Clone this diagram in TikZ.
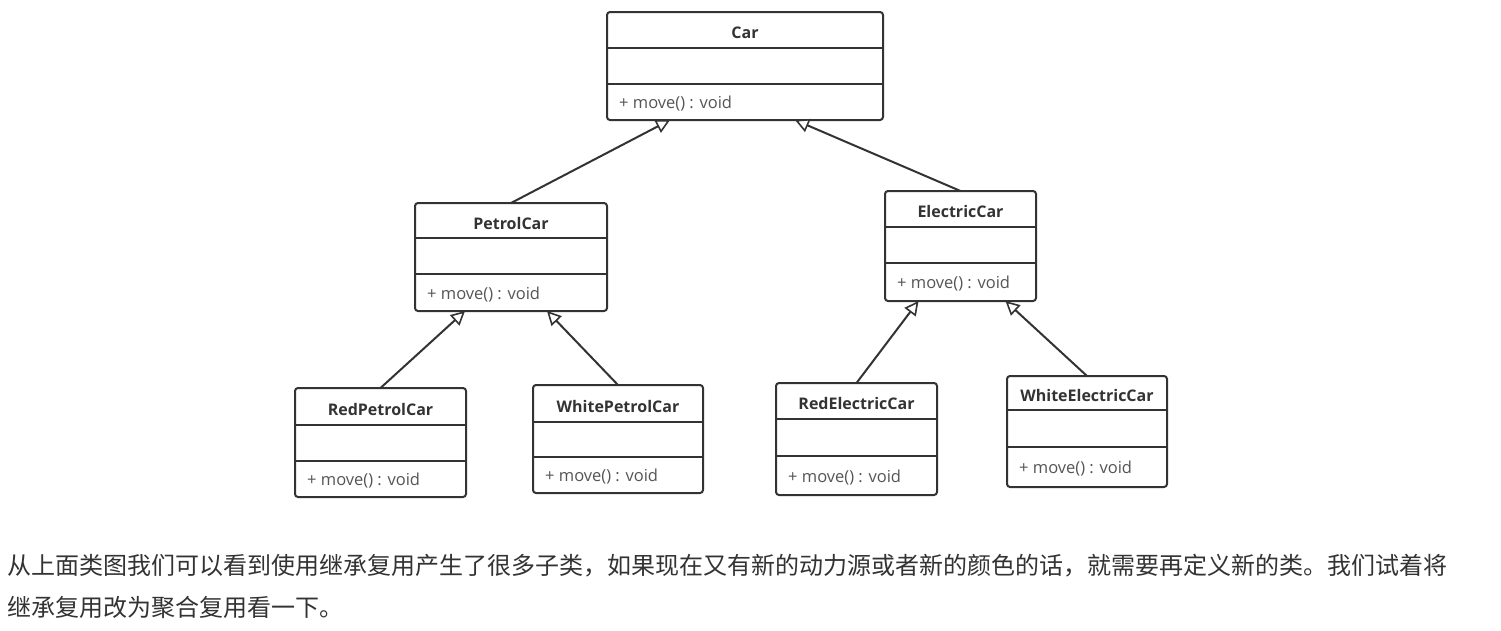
\documentclass[tikz,border=0pt]{standalone}
\usepackage{fontspec}
\setmainfont{Open Sans}
\newfontfamily\cjk{Noto Sans CJK SC}
\usetikzlibrary{arrows.meta}
\definecolor{linec}{HTML}{333333}
\definecolor{titlec}{HTML}{333333}
\definecolor{methc}{HTML}{555555}
\definecolor{bodyc}{HTML}{333333}
\tikzset{
  clsbox/.style={draw=linec, line width=2pt, rounded corners=3pt, fill=white, inner sep=0pt, outer sep=0pt},
  clsline/.style={draw=linec, line width=2pt},
  clstitle/.style={inner sep=0pt, text=titlec, font=\fontsize{16}{19}\selectfont\bfseries},
  clsmeth/.style={inner sep=0pt, anchor=west, text=methc, font=\fontsize{16.5}{19}\selectfont},
  inherit/.style={draw=linec, line width=2pt, -{Triangle[length=14pt, width=14pt, fill=white, line width=1.6pt]}},
  bodytext/.style={inner sep=0pt, anchor=west, text=bodyc, font=\cjk\fontsize{24}{28}\selectfont}
}
\newcommand\UMLcls[8]{%
  \node[clsbox, minimum width={(#4-#2)*1pt}, minimum height={(#5-#3)*1pt}] (#1) at ({(#2+#4)/2},{(#3+#5)/2}) {};
  \draw[clsline] (#1.west |- 0,#6) -- (#1.east |- 0,#6);
  \draw[clsline] (#1.west |- 0,#7) -- (#1.east |- 0,#7);
  \node[clstitle] (#1-t) at ({(#2+#4)/2},{(#3+#6)/2+2.5}) {#8};
  \node[clsmeth] (#1-m) at ({#2+12},{(#7+#5)/2+2}) {+ move() : void};
}
\begin{document}
\begin{tikzpicture}[x=1pt,y=-1pt]
\fill[white] (0,0) rectangle (1501,630);
\useasboundingbox (0,0) rectangle (1501,630);
\UMLcls{car}{607}{12}{883}{120}{48}{84}{Car}
\UMLcls{petrol}{415}{203}{607}{311}{238}{274}{PetrolCar}
\UMLcls{electric}{885}{191}{1036}{301}{227}{263}{ElectricCar}
\UMLcls{redpetrol}{295}{388}{466}{497}{425}{461}{RedPetrolCar}
\UMLcls{whitepetrol}{533}{385}{703}{493}{422}{457}{WhitePetrolCar}
\UMLcls{redelectric}{776}{383}{937}{495}{419}{456}{RedElectricCar}
\UMLcls{whiteelectric}{1007}{376}{1167}{487}{410}{447}{WhiteElectricCar}
\draw[inherit] (petrol.north) -- ([xshift=-75pt]car.south);
\draw[inherit] (electric.north) -- ([xshift=50pt]car.south);
\draw[inherit] (redpetrol.north) -- ([xshift=-46pt]petrol.south);
\draw[inherit] (whitepetrol.north) -- ([xshift=36pt]petrol.south);
\draw[inherit] (redelectric.north) -- ([xshift=-42pt]electric.south);
\draw[inherit] (whiteelectric.north) -- ([xshift=45pt]electric.south);
\node[bodytext] (line1) at (7,566) {从上面类图我们可以看到使用继承复用产生了很多子类，如果现在又有新的动力源或者新的颜色的话，就需要再定义新的类。我们试着将};
\node[bodytext] (line2) at (7,607) {继承复用改为聚合复用看一下。};
\end{tikzpicture}
\end{document}
